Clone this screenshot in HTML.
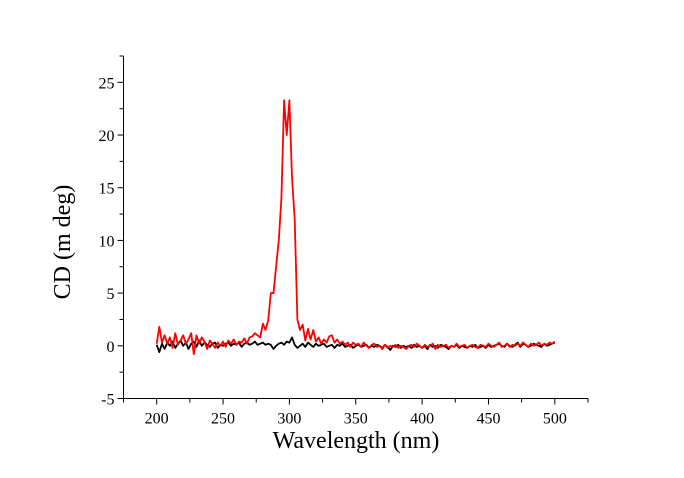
<!DOCTYPE html>
<html><head><meta charset="utf-8"><style>
body{margin:0;background:#fff;}
svg{display:block;font-family:"Liberation Serif",serif;}
</style></head><body>
<svg id="chart" width="684" height="478" viewBox="0 0 684 478" xmlns="http://www.w3.org/2000/svg">
<g id="axes"></g>
<g id="series"></g>
<text x="0" y="0" transform="translate(70,242) rotate(-90)" text-anchor="middle" font-size="24">CD (m deg)</text>
<text x="356" y="448" text-anchor="middle" font-size="24">Wavelength (nm)</text>
</svg>
<script>
const xStart = 200;
const xStepNm = 2;
const redValues = [0.2,1.8,0.3,1.0,0.2,0.8,-0.2,1.2,0.1,0.5,1.0,0.2,0.6,1.2,-0.8,1.0,
0.2,0.8,0.4,-0.3,0.5,0.2,-0.2,0.3,0.0,0.4,-0.1,0.5,0.2,0.6,0.1,0.4,0.3,0.7,0.2,0.8,
0.9,1.2,1.0,0.8,2.1,1.5,2.4,5.0,
5.0,7.5,10.0,14.0,23.3,20.0,23.3,16.0,12.0,2.5,1.5,2.0,
0.5,1.6,0.6,1.5,0.4,0.8,0.2,0.6,0.3,0.9,1.0,0.3,0.6,0.2,0.4,0.1,0.3,-0.1,0.3,0.1,
0.2,-0.1,0.3,0.0,-0.2,0.1,0.2,-0.1,0.0,-0.3,0.1,-0.2,0.0,-0.1,0.1,-0.2,0.0,-0.1,-0.3,0.0,
0.1,-0.1,0.2,0.0,-0.2,0.1,-0.1,0.0,0.2,-0.3,0.1,-0.1,0.0,0.1,-0.2,0.0,-0.1,0.2,-0.1,0.0,
0.1,-0.2,0.0,0.1,-0.1,-0.2,0.1,0.0,-0.1,0.2,0.0,-0.1,0.1,0.3,-0.1,0.0,0.2,-0.1,0.1,0.0,
0.2,0.0,0.3,0.1,-0.1,0.2,0.0,0.1,0.3,0.0,0.2,0.1,0.3,0.2,0.4];
const blackValues = [0.1,-0.6,0.2,-0.3,0.3,0.0,0.4,-0.2,0.2,0.5,0.0,0.3,-0.3,0.2,0.4,-0.1,
0.5,0.0,0.3,0.1,-0.1,0.2,0.3,-0.2,0.1,0.0,0.2,0.3,0.0,0.2,0.1,0.3,-0.1,0.2,0.3,0.1,
0.2,0.4,0.1,0.2,0.3,0.1,0.2,0.1,-0.3,0.0,0.2,0.3,0.1,0.4,0.3,0.8,0.1,-0.2,0.0,0.2,
-0.1,0.3,0.1,-0.1,0.2,0.0,0.1,0.2,-0.1,0.0,0.1,-0.2,0.1,0.0,0.2,-0.1,0.0,0.1,-0.2,0.0,
0.1,-0.1,0.0,0.1,-0.2,0.0,-0.1,0.1,0.0,-0.2,0.1,-0.1,-0.4,0.0,-0.1,0.1,-0.2,0.0,-0.1,0.0,
-0.2,0.1,-0.1,0.0,-0.2,0.0,-0.3,0.1,-0.1,0.0,-0.2,0.1,0.0,-0.1,-0.3,0.0,-0.1,0.1,-0.2,0.0,
-0.1,-0.2,0.0,-0.1,0.1,-0.2,-0.1,0.0,-0.2,0.1,-0.1,0.0,0.1,0.2,0.0,-0.1,0.2,0.0,-0.1,0.1,
0.3,-0.1,0.2,0.1,-0.1,0.0,0.2,0.1,0.0,-0.1,0.2,0.0,0.1,0.2,0.3];
const xTickLabels = [200,250,300,350,400,450,500];
const yTickLabels = [-5,0,5,10,15,20,25];

const X0=123.5, X1=588, Y0=398.5, Y1=56;
const xMin=175, xMax=525, yMin=-5, yMax=27.5;
const sx = v => X0 + (v-xMin)/(xMax-xMin)*(X1-X0);
const sy = v => Y0 - (v-yMin)/(yMax-yMin)*(Y0-Y1);
const NS="http://www.w3.org/2000/svg";
const axes=document.getElementById('axes');
const series=document.getElementById('series');
function mk(tag, attrs, parent){const e=document.createElementNS(NS,tag);for(const k in attrs)e.setAttribute(k,attrs[k]);parent.appendChild(e);return e;}

let e=mk('line',{x1:X0,y1:Y0,x2:X1,y2:Y0,stroke:'#000','stroke-width':1},axes);


e=mk('line',{x1:X0,y1:Y0,x2:X0,y2:Y1,stroke:'#000','stroke-width':1},axes);



for(let v=xMin; v<=xMax; v+=25){
  const major = xTickLabels.indexOf(v)>=0;
  const t=mk('line',{x1:sx(v),y1:Y0,x2:sx(v),y2:Y0+(major?6:4),stroke:'#000'},axes);
  
  
}
xTickLabels.forEach(v=>{
  const t=mk('text',{x:sx(v),y:Y0+25,'text-anchor':'middle','font-size':16},axes);
  t.textContent=v;
  
  
});
for(let v=yMin; v<=yMax; v+=2.5){
  const major = yTickLabels.indexOf(v)>=0;
  const t=mk('line',{x1:X0,y1:sy(v),x2:X0-(major?6:4),y2:sy(v),stroke:'#000'},axes);
  
  
}
yTickLabels.forEach(v=>{
  const t=mk('text',{x:X0-9,y:sy(v)+6,'text-anchor':'end','font-size':16},axes);
  t.textContent=v;
  
  
});

function path(vals,color,name){
  const d=vals.map((v,i)=>(i?'L':'M')+sx(xStart+i*xStepNm).toFixed(1)+','+sy(v).toFixed(1)).join('');
  const p=mk('path',{d:d,fill:'none',stroke:color,'stroke-width':1.8,'stroke-linejoin':'round'},series);
  
  
}
path(blackValues,'#000','black-series-line');
path(redValues,'#f00','red-series-line');
</script>
</body></html>
